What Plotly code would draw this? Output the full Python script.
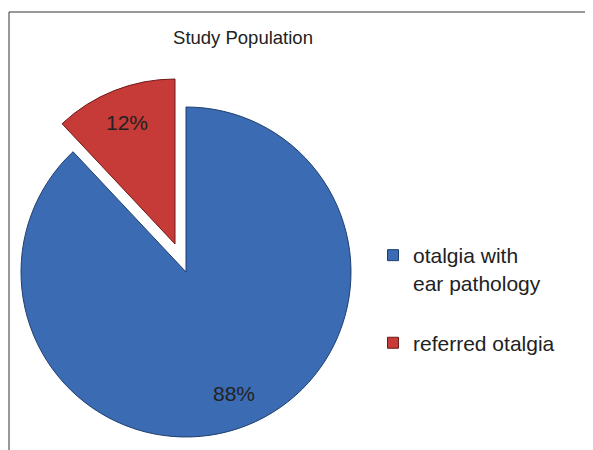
import math
import plotly.graph_objects as go

# ---- data ----
labels = ["otalgia with<br>ear pathology", "referred otalgia"]
values = [88, 12]
colors = ["#3B6BB2", "#C63A38"]
edge_colors = ["#1F3F70", "#6E1A19"]
title_text = "Study Population"

W, H = 593, 450
O = 8  # page body margin offset in the browser
T = "rgba(0,0,0,0)"

def px(x):
    return (x - O) / W

def py(y):
    return 1 - (y - O) / H

def dom(cx, cy, r):
    return dict(x=[px(cx - r), px(cx + r)], y=[py(cy + r), py(cy - r)])

R = 165
centers = [(186, 272), (175, 244)]  # main pie centre, exploded slice centre

common = dict(values=values, labels=labels, sort=False, direction="clockwise", rotation=0,
              textinfo="none", hoverinfo="skip", showlegend=False)

base = go.Pie(**common,
              marker=dict(colors=[colors[0], T], line=dict(color=[edge_colors[0], T], width=1)),
              domain=dom(*centers[0], R))
pulled = go.Pie(**common,
                marker=dict(colors=[T, colors[1]], line=dict(color=[T, edge_colors[1]], width=1)),
                domain=dom(*centers[1], R))

fig = go.Figure([base, pulled])

for i, (lab, c, ec) in enumerate(zip(labels, colors, edge_colors)):
    fig.add_trace(go.Scatter(x=[None], y=[None], mode="markers", name=lab, legendgroup=str(i),
                             marker=dict(symbol="square", size=11, color=c, line=dict(color=ec, width=1))))

# percentage labels placed on each slice's bisector
total = sum(values)
annotations = []
start = 0.0
for i, v in enumerate(values):
    mid = (start + v / 2) / total * 2 * math.pi  # clockwise from 12 o'clock
    start += v
    cx, cy = centers[i]
    k = 0.79
    lx = cx + k * R * math.sin(mid)
    ly = cy - k * R * math.cos(mid)
    annotations.append(dict(x=px(lx), y=py(ly), xref="paper", yref="paper", showarrow=False,
                            text=f"{round(v / total * 100)}%", xanchor="center", yanchor="middle",
                            font=dict(family="Liberation Sans", size=21, color="#222222")))

fig.update_layout(
    width=W, height=H, margin=dict(l=0, r=0, t=0, b=0),
    paper_bgcolor="white", plot_bgcolor="white",
    xaxis=dict(visible=False), yaxis=dict(visible=False),
    title=dict(text=title_text, x=px(243), xanchor="center", y=py(38), yanchor="middle",
               font=dict(family="Liberation Sans", size=18.5, color="#222222")),
    legend=dict(x=px(373), xanchor="left", y=py(235), yanchor="top", valign="top",
                font=dict(family="Liberation Sans", size=21, color="#222222"),
                tracegroupgap=30, bgcolor=T),
    annotations=annotations,
    shapes=[
        dict(type="line", xref="paper", yref="paper", x0=px(9), x1=1, y0=py(12), y1=py(12),
             line=dict(color="#333333", width=1)),
        dict(type="line", xref="paper", yref="paper", x0=px(9), x1=px(9), y0=0, y1=py(12),
             line=dict(color="#333333", width=1)),
    ],
)

fig.write_html("out.html")
